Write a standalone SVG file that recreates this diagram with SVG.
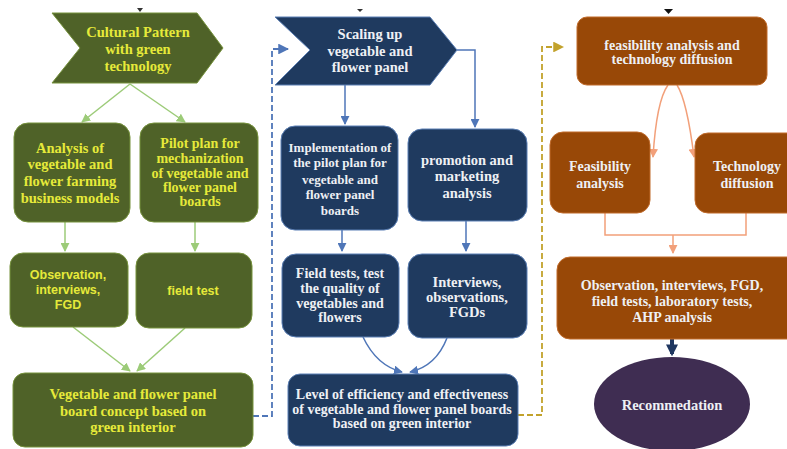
<svg xmlns="http://www.w3.org/2000/svg" width="787" height="449" viewBox="0 0 787 449">
  <defs>
    <marker id="ag" viewBox="0 0 10 10" refX="9" refY="5" markerWidth="6" markerHeight="6" orient="auto"><path d="M0,0 L10,5 L0,10 z" fill="#9ccb78"/></marker>
    <marker id="ab" viewBox="0 0 10 10" refX="9" refY="5" markerWidth="6" markerHeight="6" orient="auto"><path d="M0,0 L10,5 L0,10 z" fill="#4f76b8"/></marker>
    <marker id="ao" viewBox="0 0 10 10" refX="9" refY="5" markerWidth="6" markerHeight="6" orient="auto"><path d="M0,0 L10,5 L0,10 z" fill="#f2a07a"/></marker>
    <marker id="ay" viewBox="0 0 10 10" refX="9" refY="5" markerWidth="6" markerHeight="6" orient="auto"><path d="M0,0 L10,5 L0,10 z" fill="#c2a22c"/></marker>
    <marker id="an" viewBox="0 0 10 10" refX="8" refY="5" markerWidth="3" markerHeight="3" orient="auto"><path d="M0,0 L10,5 L0,10 z" fill="#1f3760"/></marker>
  </defs>
  <style>
    .g { fill: #4f6228; stroke: #76923c; stroke-width: 1; }
    .b { fill: #1f3a5f; stroke: #5b7fb5; stroke-width: 1; }
    .o { fill: #984807; stroke: #c06a2a; stroke-width: 1; }
    text { font-family: "Liberation Serif", "DejaVu Serif", serif; font-weight: bold; font-size: 14.5px; text-anchor: middle; }
    .ty { fill: #e6ea3a; }
    .tw { fill: #eef0f4; }
    .to { font-size: 14px; }
    .sm { font-size: 14px; }
    .xs { font-size: 13px; }
    .sans { font-family: "Liberation Sans", Arial, sans-serif; font-size: 12.5px; }
    .lg { fill: none; stroke: #9ccb78; stroke-width: 1.5; marker-end: url(#ag); }
    .lb { fill: none; stroke: #4f76b8; stroke-width: 1.5; marker-end: url(#ab); }
    .lo { fill: none; stroke: #f2a07a; stroke-width: 1.5; }
  </style>

  <g id="connectors">
    <path class="lg" d="M130,84 L82,122"/>
    <path class="lg" d="M130,84 L185,122"/>
    <path class="lg" d="M65,222 L65,251"/>
    <path class="lg" d="M195,222 L195,251"/>
    <path class="lg" d="M73,327 L130,371"/>
    <path class="lg" d="M185,328 L137,371"/>
    <path d="M253,416 L272,416 L272,49 L288,49" fill="none" stroke="#4f76b8" stroke-width="1.8" stroke-dasharray="6,3" marker-end="url(#ab)"/>
    <path class="lb" d="M345,85 L345,124"/>
    <path class="lb" d="M457,50 L475,50 L475,127"/>
    <path class="lb" d="M342,230 L342,251"/>
    <path class="lb" d="M466,221 L466,251"/>
    <path class="lb" d="M363,337 C372,356 386,368 402,372"/>
    <path class="lb" d="M447,338 C440,356 428,368 410,372"/>
    <path d="M518,415 L542,415 L542,47 L563,47" fill="none" stroke="#c2a22c" stroke-width="1.8" stroke-dasharray="6,3" marker-end="url(#ay)"/>
    <path class="lo" d="M668,85 C660,96 655,125 653,157" marker-end="url(#ao)"/>
    <path class="lo" d="M677,85 C684,96 690,125 694,157" marker-end="url(#ao)"/>
    <path class="lo" d="M605,213 L605,235 L746,235 L746,213"/>
    <path class="lo" d="M673,235 L673,253" marker-end="url(#ao)"/>
    <path d="M672,339 L672,354" fill="none" stroke="#1f3760" stroke-width="4" marker-end="url(#an)"/>
    <path d="M137,8 L143,8 L140,12 z" fill="#333"/>
    <path d="M357,9 L363,9 L360,12 z" fill="#333"/>
    <path d="M664,9 L673,9 L668.5,14 z" fill="#111"/>
  </g>

  <g id="cultural-pattern">
    <path class="g" d="M52,13 L197,13 L223,48 L197,83 L52,83 L80,48 z"/>
    <text class="ty" x="138" y="37">Cultural Pattern</text>
    <text class="ty" x="138" y="54">with green</text>
    <text class="ty" x="138" y="71">technology</text>
  </g>
  <g id="analysis-models">
    <rect class="g" x="14" y="123" width="116" height="99" rx="14"/>
    <text class="ty" x="70" y="153">Analysis of</text>
    <text class="ty" x="70" y="169">vegetable and</text>
    <text class="ty" x="70" y="186">flower farming</text>
    <text class="ty" x="70" y="203">business models</text>
  </g>
  <g id="pilot-plan">
    <rect class="g" x="140" y="123" width="118" height="99" rx="14"/>
    <text class="ty sm" x="200" y="148">Pilot plan for</text>
    <text class="ty sm" x="200" y="163">mechanization</text>
    <text class="ty sm" x="200" y="178">of vegetable and</text>
    <text class="ty sm" x="200" y="192">flower panel</text>
    <text class="ty sm" x="200" y="206">boards</text>
  </g>
  <g id="observation-green">
    <rect class="g" x="10" y="253" width="118" height="74" rx="13"/>
    <text class="ty sans" x="68" y="279">Observation,</text>
    <text class="ty sans" x="68" y="294">interviews,</text>
    <text class="ty sans" x="68" y="309">FGD</text>
  </g>
  <g id="field-test">
    <rect class="g" x="136" y="253" width="116" height="75" rx="13"/>
    <text class="ty sans" x="193" y="295">field test</text>
  </g>
  <g id="panel-board-concept">
    <rect class="g" x="13" y="373" width="240" height="74" rx="12"/>
    <text class="ty" x="133" y="399">Vegetable and flower panel</text>
    <text class="ty" x="133" y="416">board concept based on</text>
    <text class="ty" x="133" y="432">green interior</text>
  </g>

  <g id="scaling-up">
    <path class="b" d="M275,17 L430,17 L457,50 L430,85 L275,85 L310,50 z"/>
    <text class="tw" x="370" y="39">Scaling up</text>
    <text class="tw" x="370" y="56">vegetable and</text>
    <text class="tw" x="370" y="72">flower panel</text>
  </g>
  <g id="implementation">
    <rect class="b" x="281" y="126" width="117" height="104" rx="14"/>
    <text class="tw xs" x="340" y="152">Implementation of</text>
    <text class="tw xs" x="340" y="167">the pilot plan for</text>
    <text class="tw xs" x="340" y="184">vegetable and</text>
    <text class="tw xs" x="340" y="199">flower panel</text>
    <text class="tw xs" x="340" y="215">boards</text>
  </g>
  <g id="promotion">
    <rect class="b" x="408" y="129" width="119" height="92" rx="14"/>
    <text class="tw" x="467" y="165">promotion and</text>
    <text class="tw" x="467" y="181">marketing</text>
    <text class="tw" x="467" y="198">analysis</text>
  </g>
  <g id="field-tests-quality">
    <rect class="b" x="282" y="254" width="117" height="83" rx="14"/>
    <text class="tw sm" x="340" y="278">Field tests, test</text>
    <text class="tw sm" x="340" y="293">the quality of</text>
    <text class="tw sm" x="340" y="308">vegetables and</text>
    <text class="tw sm" x="340" y="322">flowers</text>
  </g>
  <g id="interviews-blue">
    <rect class="b" x="408" y="254" width="119" height="84" rx="14"/>
    <text class="tw" x="467" y="287">Interviews,</text>
    <text class="tw" x="467" y="302">observations,</text>
    <text class="tw" x="467" y="317">FGDs</text>
  </g>
  <g id="efficiency-level">
    <rect class="b" x="288" y="374" width="230" height="72" rx="12"/>
    <text class="tw sm" x="402" y="399">Level of efficiency and effectiveness</text>
    <text class="tw sm" x="402" y="414">of vegetable and flower panel boards</text>
    <text class="tw sm" x="402" y="428">based on green interior</text>
  </g>

  <g id="feasibility-diffusion">
    <rect class="o" x="577" y="17" width="190" height="68" rx="10"/>
    <text class="tw to" x="672" y="50">feasibility analysis and</text>
    <text class="tw to" x="672" y="64">technology diffusion</text>
  </g>
  <g id="feasibility">
    <rect class="o" x="550" y="132" width="100" height="81" rx="13"/>
    <text class="tw to" x="600" y="171">Feasibility</text>
    <text class="tw to" x="600" y="188">analysis</text>
  </g>
  <g id="technology-diffusion">
    <rect class="o" x="695" y="133" width="110" height="80" rx="13"/>
    <text class="tw to" x="747" y="171">Technology</text>
    <text class="tw to" x="747" y="188">diffusion</text>
  </g>
  <g id="methods-orange">
    <rect class="o" x="557" y="257" width="250" height="82" rx="13"/>
    <text class="tw to" x="672" y="290">Observation, interviews, FGD,</text>
    <text class="tw to" x="672" y="306">field tests, laboratory tests,</text>
    <text class="tw to" x="672" y="322">AHP analysis</text>
  </g>
  <g id="recommendation">
    <ellipse cx="672" cy="404" rx="78" ry="47" fill="#3f2d52"/>
    <text class="tw" x="672" y="410">Recommedation</text>
  </g>
</svg>
